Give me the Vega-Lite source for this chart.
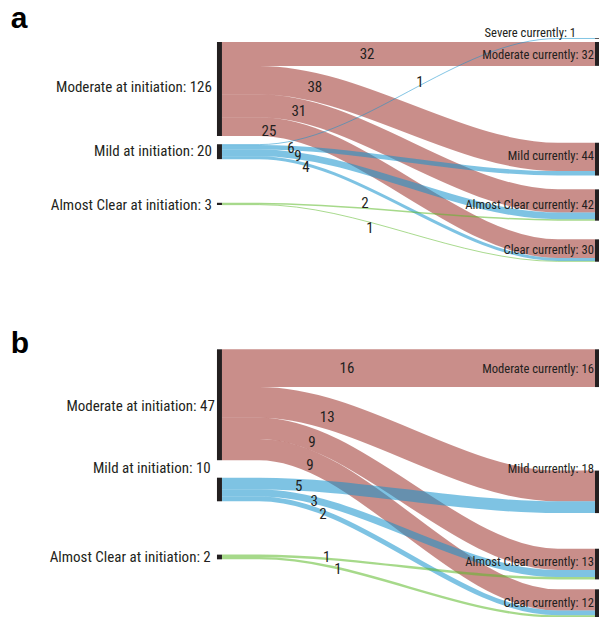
{
  "$schema": "https://vega.github.io/schema/vega-lite/v6.json",
  "padding": 0,
  "spacing": 0,
  "bounds": "flush",
  "config": {"view": {"stroke": null}},
  "resolve": {"scale": {"x": "independent", "y": "independent", "color": "independent", "strokeWidth": "independent"}},
  "vconcat": [
    {
      "width": 599,
      "height": 310,
      "encoding": {
        "x": {"field": "x", "type": "quantitative", "scale": {"domain": [-0.595, 1.0107], "nice": false, "zero": false}, "axis": null},
        "y": {"field": "y", "type": "quantitative", "scale": {"domain": [-56.3, 359.2], "reverse": true, "nice": false, "zero": false}, "axis": null}
      },
      "layer": [
        {
          "data": {"values": [
            {"id": "a1", "grp": "Moderate", "value": 32, "x": 0, "y": 16},
            {"id": "a1", "grp": "Moderate", "value": 32, "x": 0.1, "y": 16},
            {"id": "a1", "grp": "Moderate", "value": 32, "x": 0.9, "y": 16},
            {"id": "a1", "grp": "Moderate", "value": 32, "x": 1, "y": 16},
            {"id": "a2", "grp": "Moderate", "value": 38, "x": 0, "y": 51},
            {"id": "a2", "grp": "Moderate", "value": 38, "x": 0.1, "y": 51},
            {"id": "a2", "grp": "Moderate", "value": 38, "x": 0.9, "y": 154},
            {"id": "a2", "grp": "Moderate", "value": 38, "x": 1, "y": 154},
            {"id": "a3", "grp": "Moderate", "value": 31, "x": 0, "y": 85.5},
            {"id": "a3", "grp": "Moderate", "value": 31, "x": 0.1, "y": 85.5},
            {"id": "a3", "grp": "Moderate", "value": 31, "x": 0.9, "y": 213},
            {"id": "a3", "grp": "Moderate", "value": 31, "x": 1, "y": 213},
            {"id": "a4", "grp": "Moderate", "value": 25, "x": 0, "y": 113.5},
            {"id": "a4", "grp": "Moderate", "value": 25, "x": 0.1, "y": 113.5},
            {"id": "a4", "grp": "Moderate", "value": 25, "x": 0.9, "y": 277},
            {"id": "a4", "grp": "Moderate", "value": 25, "x": 1, "y": 277},
            {"id": "a5", "grp": "Mild", "value": 1.3, "x": 0, "y": 137.5},
            {"id": "a5", "grp": "Mild", "value": 1.3, "x": 0.1, "y": 137.5},
            {"id": "a5", "grp": "Mild", "value": 1.3, "x": 0.9, "y": -4.7},
            {"id": "a5", "grp": "Mild", "value": 1.3, "x": 1, "y": -4.7},
            {"id": "a6", "grp": "Mild", "value": 6, "x": 0, "y": 141},
            {"id": "a6", "grp": "Mild", "value": 6, "x": 0.1, "y": 141},
            {"id": "a6", "grp": "Mild", "value": 6, "x": 0.9, "y": 176},
            {"id": "a6", "grp": "Mild", "value": 6, "x": 1, "y": 176},
            {"id": "a7", "grp": "Mild", "value": 9, "x": 0, "y": 148.5},
            {"id": "a7", "grp": "Mild", "value": 9, "x": 0.1, "y": 148.5},
            {"id": "a7", "grp": "Mild", "value": 9, "x": 0.9, "y": 233},
            {"id": "a7", "grp": "Mild", "value": 9, "x": 1, "y": 233},
            {"id": "a8", "grp": "Mild", "value": 4, "x": 0, "y": 155},
            {"id": "a8", "grp": "Mild", "value": 4, "x": 0.1, "y": 155},
            {"id": "a8", "grp": "Mild", "value": 4, "x": 0.9, "y": 291.5},
            {"id": "a8", "grp": "Mild", "value": 4, "x": 1, "y": 291.5},
            {"id": "a9", "grp": "Almost Clear", "value": 2, "x": 0, "y": 216.5},
            {"id": "a9", "grp": "Almost Clear", "value": 2, "x": 0.1, "y": 216.5},
            {"id": "a9", "grp": "Almost Clear", "value": 2, "x": 0.9, "y": 238.5},
            {"id": "a9", "grp": "Almost Clear", "value": 2, "x": 1, "y": 238.5},
            {"id": "a10", "grp": "Almost Clear", "value": 1.3, "x": 0, "y": 218},
            {"id": "a10", "grp": "Almost Clear", "value": 1.3, "x": 0.1, "y": 218},
            {"id": "a10", "grp": "Almost Clear", "value": 1.3, "x": 0.9, "y": 294},
            {"id": "a10", "grp": "Almost Clear", "value": 1.3, "x": 1, "y": 294}
          ]},
          "mark": {"type": "line", "interpolate": "monotone", "strokeCap": "butt", "opacity": 0.55},
          "encoding": {
            "detail": {"field": "id", "type": "nominal"},
            "color": {"field": "grp", "type": "nominal", "scale": {"domain": ["Moderate", "Mild", "Almost Clear"], "range": ["#9d322a", "#1492cc", "#5dba2a"]}, "legend": null},
            "strokeWidth": {"field": "value", "type": "quantitative", "scale": {"domain": [0, 100], "range": [0, 74.61]}, "legend": null}
          }
        },
        {
          "data": {"values": [
            {"node": "Moderate at initiation", "x": 0, "y": 0, "y2": 126},
            {"node": "Mild at initiation", "x": 0, "y": 137, "y2": 157},
            {"node": "Almost Clear at initiation", "x": 0, "y": 215.5, "y2": 218.5}
          ]},
          "mark": {"type": "rule", "strokeWidth": 5, "xOffset": -2.5, "color": "#231f20"},
          "encoding": {"y2": {"field": "y2"}}
        },
        {
          "data": {"values": [
            {"node": "Severe currently", "x": 1, "y": -5.2, "y2": -4.2},
            {"node": "Moderate currently", "x": 1, "y": 0, "y2": 32},
            {"node": "Mild currently", "x": 1, "y": 135, "y2": 179},
            {"node": "Almost Clear currently", "x": 1, "y": 197.5, "y2": 239.5},
            {"node": "Clear currently", "x": 1, "y": 264.5, "y2": 294.5}
          ]},
          "mark": {"type": "rule", "strokeWidth": 4, "xOffset": 2, "color": "#231f20"},
          "encoding": {"y2": {"field": "y2"}}
        },
        {
          "data": {"values": [
            {"t": "Moderate at initiation: 126", "x": -0.027, "y": 60.3},
            {"t": "Mild at initiation: 20", "x": -0.027, "y": 146.1},
            {"t": "Almost Clear at initiation: 3", "x": -0.027, "y": 218}
          ]},
          "mark": {"type": "text", "align": "right", "baseline": "middle", "font": "Roboto Condensed, Liberation Sans Narrow, Liberation Sans", "fontSize": 15, "color": "#231f20"},
          "encoding": {"text": {"field": "t"}}
        },
        {
          "data": {"values": [
            {"t": "Severe currently: 1", "x": 0.949, "y": -12.7},
            {"t": "Moderate currently: 32", "x": 0.997, "y": 17.4},
            {"t": "Mild currently: 44", "x": 0.997, "y": 152.4},
            {"t": "Almost Clear currently: 42", "x": 0.997, "y": 218.5},
            {"t": "Clear currently: 30", "x": 0.997, "y": 278.8}
          ]},
          "mark": {"type": "text", "align": "right", "baseline": "middle", "font": "Roboto Condensed, Liberation Sans Narrow, Liberation Sans", "fontSize": 12.6, "color": "#231f20"},
          "encoding": {"text": {"field": "t"}}
        },
        {
          "data": {"values": [
            {"t": "32", "x": 0.389, "y": 16.1},
            {"t": "38", "x": 0.249, "y": 60.3},
            {"t": "31", "x": 0.206, "y": 92.5},
            {"t": "25", "x": 0.126, "y": 119.3},
            {"t": "1", "x": 0.531, "y": 53.6},
            {"t": "6", "x": 0.185, "y": 142.1},
            {"t": "9", "x": 0.204, "y": 152.8},
            {"t": "4", "x": 0.225, "y": 167.6},
            {"t": "2", "x": 0.383, "y": 215.8},
            {"t": "1", "x": 0.397, "y": 249.3}
          ]},
          "mark": {"type": "text", "align": "center", "baseline": "middle", "font": "Roboto Condensed, Liberation Sans Narrow, Liberation Sans", "fontSize": 15, "color": "#231f20"},
          "encoding": {"text": {"field": "t"}}
        },
        {
          "data": {"values": [{"t": "a", "x": -0.566, "y": -18.8}]},
          "mark": {"type": "text", "align": "left", "baseline": "alphabetic", "font": "Liberation Sans, Arial, sans-serif", "fontWeight": "bold", "fontSize": 30, "color": "#000000"},
          "encoding": {"text": {"field": "t"}}
        }
      ]
    },
    {
      "width": 599,
      "height": 307,
      "encoding": {
        "x": {"field": "x", "type": "quantitative", "scale": {"domain": [-0.595, 1.0107], "nice": false, "zero": false}, "axis": null},
        "y": {"field": "y", "type": "quantitative", "scale": {"domain": [-16.65, 113.43], "reverse": true, "nice": false, "zero": false}, "axis": null}
      },
      "layer": [
        {
          "data": {"values": [
            {"id": "b1", "grp": "Moderate", "value": 16, "x": 0, "y": 8},
            {"id": "b1", "grp": "Moderate", "value": 16, "x": 0.1, "y": 8},
            {"id": "b1", "grp": "Moderate", "value": 16, "x": 0.9, "y": 8},
            {"id": "b1", "grp": "Moderate", "value": 16, "x": 1, "y": 8},
            {"id": "b2", "grp": "Moderate", "value": 13, "x": 0, "y": 22.5},
            {"id": "b2", "grp": "Moderate", "value": 13, "x": 0.1, "y": 22.5},
            {"id": "b2", "grp": "Moderate", "value": 13, "x": 0.9, "y": 57.9},
            {"id": "b2", "grp": "Moderate", "value": 13, "x": 1, "y": 57.9},
            {"id": "b3", "grp": "Moderate", "value": 9, "x": 0, "y": 33.5},
            {"id": "b3", "grp": "Moderate", "value": 9, "x": 0.1, "y": 33.5},
            {"id": "b3", "grp": "Moderate", "value": 9, "x": 0.9, "y": 89},
            {"id": "b3", "grp": "Moderate", "value": 9, "x": 1, "y": 89},
            {"id": "b4", "grp": "Moderate", "value": 9, "x": 0, "y": 42.5},
            {"id": "b4", "grp": "Moderate", "value": 9, "x": 0.1, "y": 42.5},
            {"id": "b4", "grp": "Moderate", "value": 9, "x": 0.9, "y": 106.2},
            {"id": "b4", "grp": "Moderate", "value": 9, "x": 1, "y": 106.2},
            {"id": "b5", "grp": "Mild", "value": 5, "x": 0, "y": 56.9},
            {"id": "b5", "grp": "Mild", "value": 5, "x": 0.1, "y": 56.9},
            {"id": "b5", "grp": "Mild", "value": 5, "x": 0.9, "y": 66.9},
            {"id": "b5", "grp": "Mild", "value": 5, "x": 1, "y": 66.9},
            {"id": "b6", "grp": "Mild", "value": 3, "x": 0, "y": 60.9},
            {"id": "b6", "grp": "Mild", "value": 3, "x": 0.1, "y": 60.9},
            {"id": "b6", "grp": "Mild", "value": 3, "x": 0.9, "y": 95},
            {"id": "b6", "grp": "Mild", "value": 3, "x": 1, "y": 95},
            {"id": "b7", "grp": "Mild", "value": 2, "x": 0, "y": 63.4},
            {"id": "b7", "grp": "Mild", "value": 2, "x": 0.1, "y": 63.4},
            {"id": "b7", "grp": "Mild", "value": 2, "x": 0.9, "y": 111.7},
            {"id": "b7", "grp": "Mild", "value": 2, "x": 1, "y": 111.7},
            {"id": "b8", "grp": "Almost Clear", "value": 1, "x": 0, "y": 87.5},
            {"id": "b8", "grp": "Almost Clear", "value": 1, "x": 0.1, "y": 87.5},
            {"id": "b8", "grp": "Almost Clear", "value": 1, "x": 0.9, "y": 97},
            {"id": "b8", "grp": "Almost Clear", "value": 1, "x": 1, "y": 97},
            {"id": "b9", "grp": "Almost Clear", "value": 1, "x": 0, "y": 88.5},
            {"id": "b9", "grp": "Almost Clear", "value": 1, "x": 0.1, "y": 88.5},
            {"id": "b9", "grp": "Almost Clear", "value": 1, "x": 0.9, "y": 113.2},
            {"id": "b9", "grp": "Almost Clear", "value": 1, "x": 1, "y": 113.2}
          ]},
          "mark": {"type": "line", "interpolate": "monotone", "strokeCap": "butt", "opacity": 0.55},
          "encoding": {
            "detail": {"field": "id", "type": "nominal"},
            "color": {"field": "grp", "type": "nominal", "scale": {"domain": ["Moderate", "Mild", "Almost Clear"], "range": ["#9d322a", "#1492cc", "#5dba2a"]}, "legend": null},
            "strokeWidth": {"field": "value", "type": "quantitative", "scale": {"domain": [0, 100], "range": [0, 236.0]}, "legend": null}
          }
        },
        {
          "data": {"values": [
            {"node": "Moderate at initiation", "x": 0, "y": 0, "y2": 47},
            {"node": "Mild at initiation", "x": 0, "y": 54.4, "y2": 64.4},
            {"node": "Almost Clear at initiation", "x": 0, "y": 87, "y2": 89}
          ]},
          "mark": {"type": "rule", "strokeWidth": 5, "xOffset": -2.5, "color": "#231f20"},
          "encoding": {"y2": {"field": "y2"}}
        },
        {
          "data": {"values": [
            {"node": "Moderate currently", "x": 1, "y": 0, "y2": 16},
            {"node": "Mild currently", "x": 1, "y": 51.4, "y2": 69.4},
            {"node": "Almost Clear currently", "x": 1, "y": 84.5, "y2": 97.5},
            {"node": "Clear currently", "x": 1, "y": 101.7, "y2": 113.7}
          ]},
          "mark": {"type": "rule", "strokeWidth": 4, "xOffset": 2, "color": "#231f20"},
          "encoding": {"y2": {"field": "y2"}}
        },
        {
          "data": {"values": [
            {"t": "Moderate at initiation: 47", "x": -0.019, "y": 24.2},
            {"t": "Mild at initiation: 10", "x": -0.03, "y": 50.3},
            {"t": "Almost Clear at initiation: 2", "x": -0.03, "y": 88}
          ]},
          "mark": {"type": "text", "align": "right", "baseline": "middle", "font": "Roboto Condensed, Liberation Sans Narrow, Liberation Sans", "fontSize": 15, "color": "#231f20"},
          "encoding": {"text": {"field": "t"}}
        },
        {
          "data": {"values": [
            {"t": "Moderate currently: 16", "x": 0.997, "y": 8.3},
            {"t": "Mild currently: 18", "x": 0.997, "y": 50.7},
            {"t": "Almost Clear currently: 13", "x": 0.997, "y": 90.3},
            {"t": "Clear currently: 12", "x": 0.997, "y": 107.3}
          ]},
          "mark": {"type": "text", "align": "right", "baseline": "middle", "font": "Roboto Condensed, Liberation Sans Narrow, Liberation Sans", "fontSize": 12.6, "color": "#231f20"},
          "encoding": {"text": {"field": "t"}}
        },
        {
          "data": {"values": [
            {"t": "16", "x": 0.335, "y": 7.9},
            {"t": "13", "x": 0.282, "y": 28.7},
            {"t": "9", "x": 0.241, "y": 39.3},
            {"t": "9", "x": 0.236, "y": 49},
            {"t": "5", "x": 0.206, "y": 57.9},
            {"t": "3", "x": 0.247, "y": 64.3},
            {"t": "2", "x": 0.271, "y": 69.8},
            {"t": "1", "x": 0.281, "y": 88},
            {"t": "1", "x": 0.311, "y": 93}
          ]},
          "mark": {"type": "text", "align": "center", "baseline": "middle", "font": "Roboto Condensed, Liberation Sans Narrow, Liberation Sans", "fontSize": 15, "color": "#231f20"},
          "encoding": {"text": {"field": "t"}}
        },
        {
          "data": {"values": [{"t": "b", "x": -0.566, "y": 1.6}]},
          "mark": {"type": "text", "align": "left", "baseline": "alphabetic", "font": "Liberation Sans, Arial, sans-serif", "fontWeight": "bold", "fontSize": 30, "color": "#000000"},
          "encoding": {"text": {"field": "t"}}
        }
      ]
    }
  ]
}
